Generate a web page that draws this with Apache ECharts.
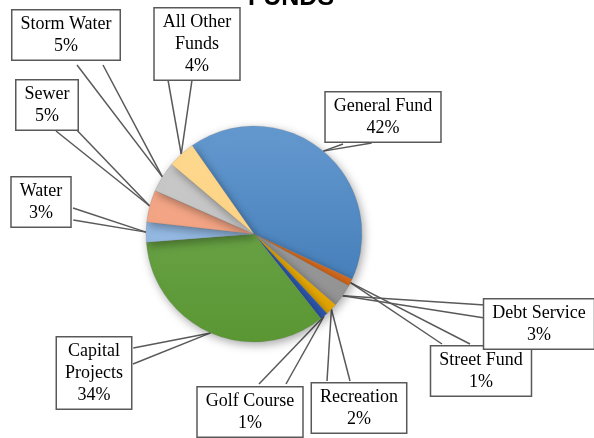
<!DOCTYPE html>
<html>
<head>
<meta charset="utf-8">
<script src="https://cdn.jsdelivr.net/npm/echarts@6/dist/echarts.min.js"></script>
<style>
  html, body { margin: 0; padding: 0; background: #fff; }
  #pie-chart { width: 594px; height: 438px; }
</style>
</head>
<body>
<div id="pie-chart"></div>
<script>
// slices clockwise from the top-left edge of General Fund
var funds = ['General Fund', 'Street Fund', 'Debt Service', 'Recreation', 'Golf Course',
  'Capital Projects', 'Water', 'Sewer', 'Storm Water', 'All Other Funds']
var shares = [41.6, 1.1, 3.4, 1.8, 1.2, 34.4, 3.0, 4.8, 4.6, 4.1]

// label text split like the callouts
var labelNames = ['General Fund', 'Street Fund', 'Debt Service', 'Recreation', 'Golf Course',
  'Capital\nProjects', 'Water', 'Sewer', 'Storm Water', 'All Other\nFunds']

var topColors = ['#6499cf', '#e0762a', '#a3a3a3', '#f0b414', '#3565bd',
  '#74aa55', '#9cc0e8', '#f5ab8c', '#cbcbcb', '#fed990']
var bottomColors = ['#3a75b2', '#cf6418', '#8f8f8f', '#e0a300', '#2a55a8',
  '#5a9733', '#8ab0dc', '#ef9b79', '#bdbdbd', '#fccf7c']

// callout box centres (px)
var calloutPos = [[383, 117], [481, 371], [539, 324], [359, 408], [250, 412],
  [94, 373], [41, 202], [47, 105], [66, 35], [197, 44]]
// the two base points of each callout pointer, on the box edge
var wedgeA = [[343, 143], [442, 345], [485, 305], [327, 382], [259, 385],
  [133, 348], [73, 207], [56, 130], [77, 64], [168, 79]]
var wedgeB = [[372, 143], [470, 345], [485, 318], [350, 382], [286, 385],
  [133, 365], [73, 220], [70, 122], [103, 64], [192, 79]]

var myChart = echarts.init(document.getElementById('pie-chart'))

var pieData = funds.map(function(name, i) {
  return {
    name: name,
    value: shares[i],
    itemStyle: {
      color: {
        type: 'linear', x: 0, y: 126, x2: 0, y2: 342, global: true,
        colorStops: [
          { offset: 0, color: topColors[i] },
          { offset: 1, color: bottomColors[i] }
        ]
      }
    }
  }
})

// invisible copy of the pie, only used to draw one side of each pointer
function pointerSeries(points) {
  return {
    type: 'pie',
    z: 1,
    silent: true,
    center: [254, 234],
    radius: 108,
    startAngle: 125,
    data: funds.map(function(name, i) {
      return { name: name, value: shares[i] }
    }),
    itemStyle: { color: 'rgba(0,0,0,0)' },
    emphasis: { disabled: true },
    label: {
      show: true,
      formatter: '.',
      color: 'rgba(0,0,0,0)',
      fontSize: 2,
      padding: 0
    },
    labelLine: {
      show: true,
      length: 0,
      length2: 0,
      smooth: false,
      lineStyle: { color: '#595959', width: 1.5 }
    },
    labelLayout: function(params) {
      var pos = points[params.dataIndex]
      return { x: pos[0], y: pos[1], align: 'center', verticalAlign: 'middle' }
    }
  }
}

var option = {
  animation: false,
  title: {
    text: 'FUNDS',
    left: 286,
    textAlign: 'center',
    top: -19,
    textStyle: {
      fontFamily: 'Liberation Sans',
      fontWeight: 'bold',
      fontSize: 25,
      color: '#000'
    }
  },
  series: [
    pointerSeries(wedgeA),
    pointerSeries(wedgeB),
    {
      type: 'pie',
      z: 5,
      center: [254, 234],
      radius: 108,
      startAngle: 125,
      clockwise: true,
      avoidLabelOverlap: false,
      data: pieData,
      itemStyle: {
        borderColor: 'rgba(120,120,120,0.35)',
        borderWidth: 0.6,
        shadowBlur: 10,
        shadowColor: 'rgba(0,0,0,0.35)',
        shadowOffsetX: 2,
        shadowOffsetY: 3
      },
      label: {
        show: true,
        formatter: function(p) {
          return labelNames[p.dataIndex] + '\n' + Math.round(p.percent) + '%'
        },
        fontFamily: 'Liberation Serif',
        fontSize: 18,
        lineHeight: 22,
        color: '#000',
        align: 'center',
        overflow: 'none',
        backgroundColor: '#fff',
        borderColor: '#595959',
        borderWidth: 1.5,
        padding: [3, 8, 2, 8]
      },
      labelLine: { show: false },
      labelLayout: function(params) {
        var pos = calloutPos[params.dataIndex]
        return {
          x: pos[0],
          y: pos[1],
          align: 'center',
          verticalAlign: 'middle'
        }
      }
    }
  ]
}
myChart.setOption(option)
</script>
</body>
</html>
